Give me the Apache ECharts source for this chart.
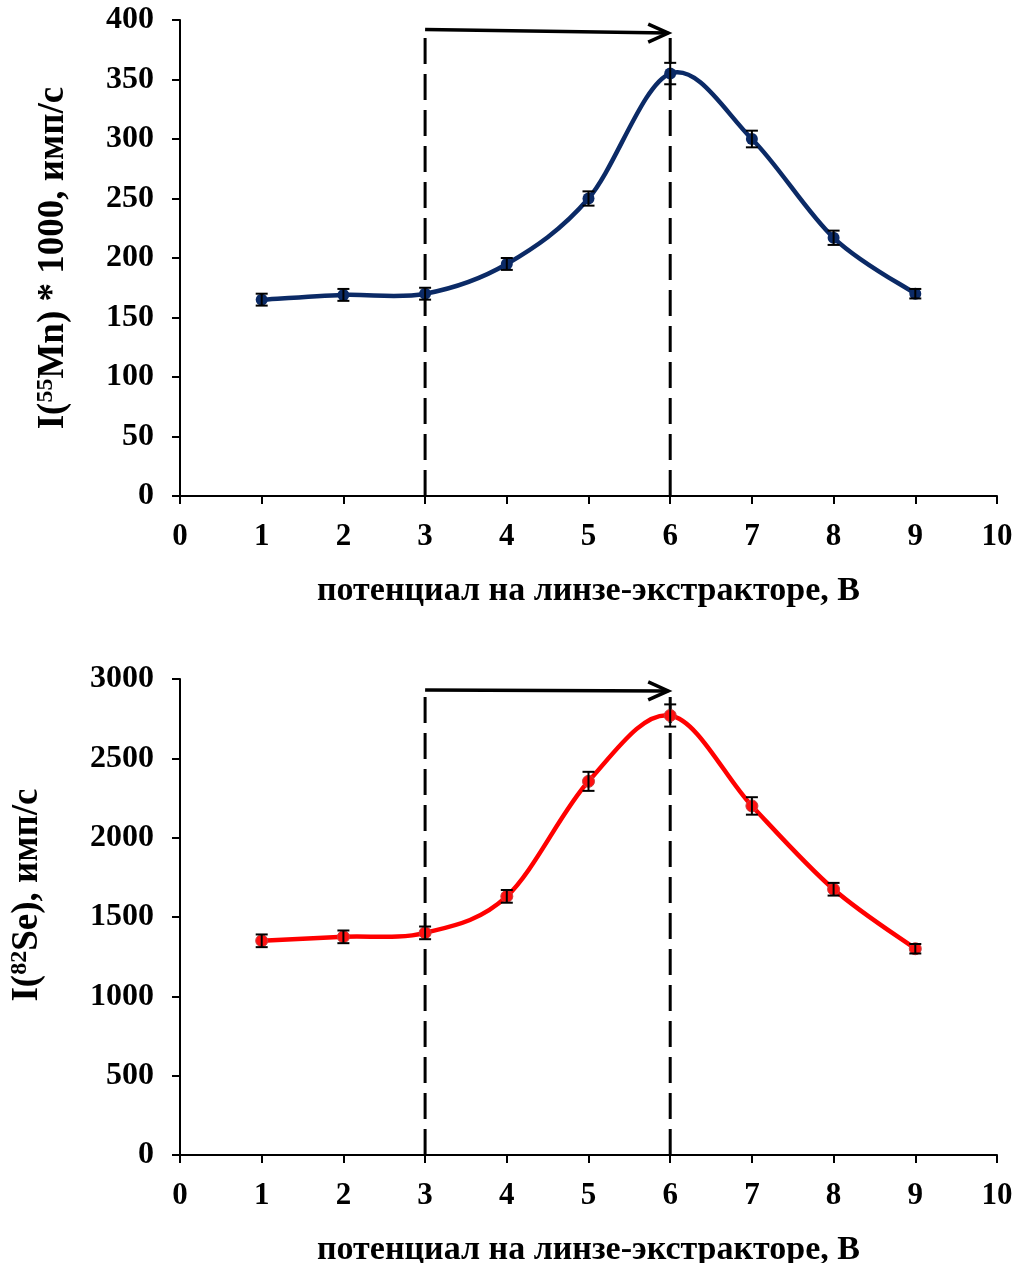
<!DOCTYPE html>
<html><head><meta charset="utf-8">
<script src="https://cdn.jsdelivr.net/npm/echarts@6/dist/echarts.min.js"></script>
<style>html,body{margin:0;padding:0;background:#fff}#c{width:1021px;height:1263px}</style>
</head><body><div id="c"></div>
<script>
var xTicks = [0,1,2,3,4,5,6,7,8,9,10];
var xVals = [1,2,3,4,5,6,7,8,9];
var mnVals = [165,169,170,195,250,355,300,217,170];
var mnErr = [5,5,5,5,6,9,7,6,4];
var seVals = [1350,1375,1400,1630,2355,2770,2200,1675,1300];
var seErr = [40,40,40,40,60,70,55,40,30];
var markX = [3,6];
var arrowMn = [3,392,6,389];
var arrowSe = [3,2930,6,2925];
var dashTopMn = [393,390];
var dashTopSe = [2940,2935];

var FONT = '"Liberation Serif","Times New Roman",serif';
var NAVY = '#0B2A66', RED = '#FF0000';

function pairs(xs, ys){ return xs.map(function(x,i){return [x, ys[i]];}); }
function errData(xs, ys, es){ return xs.map(function(x,i){return [x, ys[i]-es[i], ys[i]+es[i]];}); }

// smooth curve (Catmull-Rom style Bezier) through the data points, drawn via axis coords
function curveSeries(idx, pts, color){
  return {type:'custom', xAxisIndex:idx, yAxisIndex:idx, z:3, data:pts.slice(0, pts.length-1),
    renderItem:function(params, api){
      var i = params.dataIndex;
      var c = function(k){ k = Math.max(0, Math.min(pts.length-1, k)); return api.coord(pts[k]); };
      var p0 = c(i-1), p1 = c(i), p2 = c(i+1), p3 = c(i+2);
      var t = 1/6;
      return {type:'bezierCurve', shape:{
        x1:p1[0], y1:p1[1], x2:p2[0], y2:p2[1],
        cpx1:p1[0]+(p2[0]-p0[0])*t, cpy1:p1[1]+(p2[1]-p0[1])*t,
        cpx2:p2[0]-(p3[0]-p1[0])*t, cpy2:p2[1]-(p3[1]-p1[1])*t},
        style:{stroke:color, lineWidth:4.5, fill:null, lineCap:'round'}};
    }};
}
function errSeries(idx, data){
  return {type:'custom', xAxisIndex:idx, yAxisIndex:idx, z:5, data:data,
    renderItem:function(params, api){
      var x = api.value(0);
      var lo = api.coord([x, api.value(1)]);
      var hi = api.coord([x, api.value(2)]);
      var w = 6;
      var st = {stroke:'#000', lineWidth:2};
      return {type:'group', children:[
        {type:'line', shape:{x1:lo[0],y1:lo[1],x2:hi[0],y2:hi[1]}, style:st},
        {type:'line', shape:{x1:lo[0]-w,y1:lo[1],x2:lo[0]+w,y2:lo[1]}, style:st},
        {type:'line', shape:{x1:hi[0]-w,y1:hi[1],x2:hi[0]+w,y2:hi[1]}, style:st}
      ]};
    }};
}
function arrowSeries(idx, a){
  return {type:'custom', xAxisIndex:idx, yAxisIndex:idx, z:6, data:[a],
    renderItem:function(params, api){
      var p0 = api.coord([api.value(0), api.value(1)]);
      var p1 = api.coord([api.value(2), api.value(3)]);
      var st = {stroke:'#000', lineWidth:3.5, fill:null};
      return {type:'group', children:[
        {type:'line', shape:{x1:p0[0],y1:p0[1],x2:p1[0]-2,y2:p1[1]}, style:st},
        {type:'polyline', shape:{points:[[p1[0]-22,p1[1]-9],[p1[0]-2,p1[1]],[p1[0]-22,p1[1]+9]]}, style:st}
      ]};
    }};
}
function dashSeries(idx, x, top){
  return {type:'line', xAxisIndex:idx, yAxisIndex:idx, z:4, data:[[x,0],[x,top]], symbol:'none',
    lineStyle:{color:'#000', width:3, type:[26,10]}, silent:true};
}
function xAxis(idx){
  return {type:'value', gridIndex:idx, min:0, max:10, interval:1,
    axisLine:{lineStyle:{color:'#000', width:2}},
    axisTick:{show:true, length:8, lineStyle:{color:'#000', width:2}},
    splitLine:{show:false},
    axisLabel:{color:'#000', fontFamily:FONT, fontWeight:'bold', fontSize:31, margin:25},
    name:'потенциал на линзе-экстракторе, В', nameLocation:'middle', nameGap:78,
    nameTextStyle:{color:'#000', fontFamily:FONT, fontWeight:'bold', fontSize:34}};
}
function yAxis(idx, max, interval, rich, gap, pad){
  return {type:'value', gridIndex:idx, min:0, max:max, interval:interval,
    axisLine:{show:true, lineStyle:{color:'#000', width:2}},
    axisTick:{show:true, length:8, lineStyle:{color:'#000', width:2}},
    splitLine:{show:false},
    axisLabel:{color:'#000', fontFamily:FONT, fontWeight:'bold', fontSize:32, margin:26,
      formatter:function(v){return String(v);}},
    name:rich, nameLocation:'middle', nameRotate:90, nameGap:gap,
    nameTextStyle:{color:'#000', fontFamily:FONT, fontWeight:'bold', fontSize:37, padding:pad,
      rich:{s:{fontFamily:FONT, fontWeight:'bold', fontSize:24, verticalAlign:'top', padding:[0,0,14,0], color:'#000'},
            n:{fontFamily:FONT, fontWeight:'bold', fontSize:37, color:'#000'}}}};
}

var chart = echarts.init(document.getElementById('c'), null, {renderer:'canvas'});
chart.setOption({
  animation:false,
  backgroundColor:'#fff',
  grid:[{left:180, right:24, top:20, height:476, outerBoundsMode:'none', containLabel:false},
        {left:180, right:24, top:679, height:476, outerBoundsMode:'none', containLabel:false}],
  xAxis:[xAxis(0), xAxis(1)],
  yAxis:[yAxis(0, 400, 50, '{n|I(}{s|55}{n|Mn) * 1000, имп/с}', 108, [0,0,0,0]),
         yAxis(1, 3000, 500, '{n|I(}{s|82}{n|Se), имп/с}', 134, [0,0,0,44])],
  series:[
    dashSeries(0, markX[0], dashTopMn[0]), dashSeries(0, markX[1], dashTopMn[1]),
    dashSeries(1, markX[0], dashTopSe[0]), dashSeries(1, markX[1], dashTopSe[1]),
    curveSeries(0, pairs(xVals, mnVals), NAVY),
    curveSeries(1, pairs(xVals, seVals), RED),
    {type:'line', xAxisIndex:0, yAxisIndex:0, z:4, data:pairs(xVals, mnVals),
      symbol:'circle', symbolSize:12, itemStyle:{color:NAVY}, lineStyle:{opacity:0}},
    {type:'line', xAxisIndex:1, yAxisIndex:1, z:4, data:pairs(xVals, seVals),
      symbol:'circle', symbolSize:12, itemStyle:{color:'#FF1010', borderColor:'#C84040', borderWidth:1}, lineStyle:{opacity:0}},
    errSeries(0, errData(xVals, mnVals, mnErr)),
    errSeries(1, errData(xVals, seVals, seErr)),
    arrowSeries(0, arrowMn), arrowSeries(1, arrowSe)
  ]
});
</script></body></html>
